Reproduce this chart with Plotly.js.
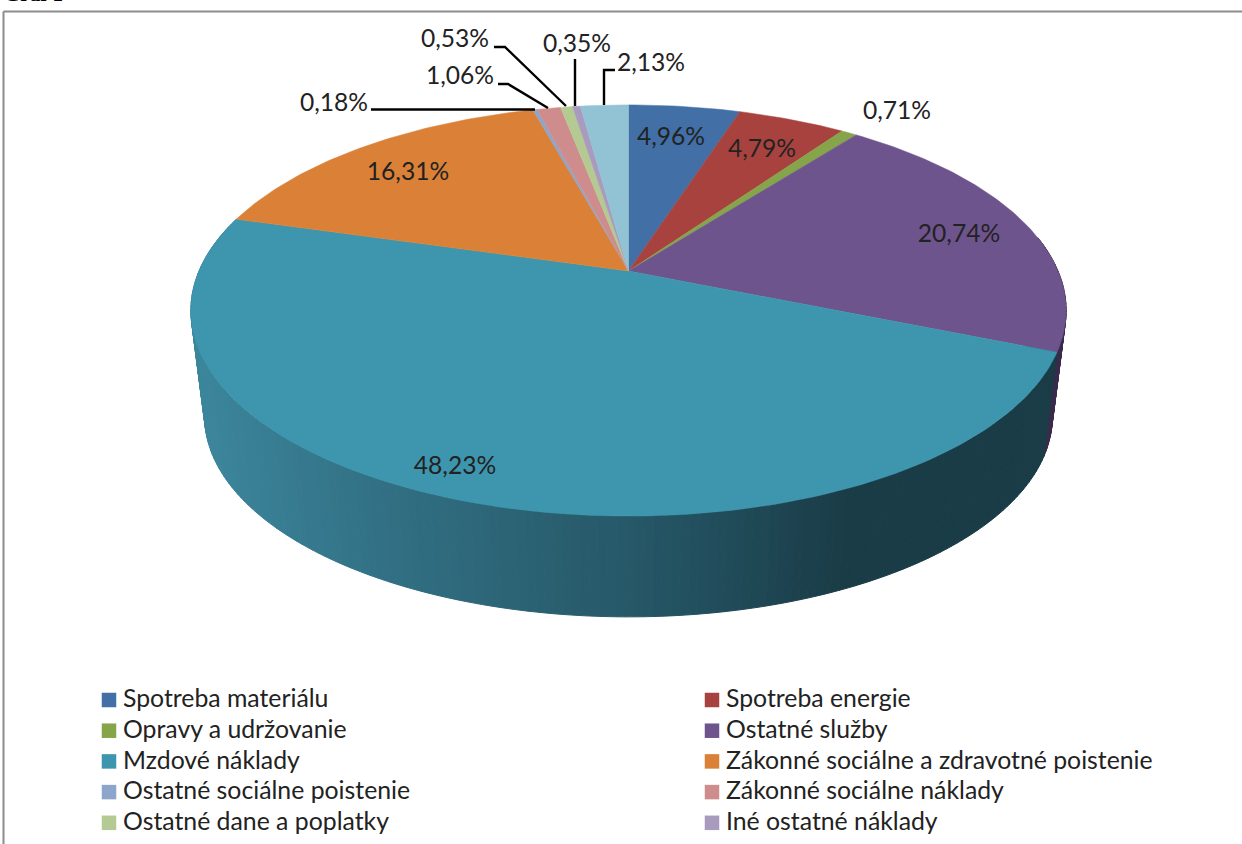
<!DOCTYPE html>
<html><head><meta charset="utf-8">
<script src="https://cdn.plot.ly/plotly-3.0.1.min.js"></script>
<style>html,body{margin:0;padding:0;background:#fff;overflow:hidden}</style></head>
<body><div id="chart" style="width:1242px;height:844px"></div>
<script>
const categories = ["Spotreba materiálu","Spotreba energie","Opravy a udržovanie","Ostatné služby","Mzdové náklady","Zákonné sociálne a zdravotné poistenie","Ostatné sociálne poistenie","Zákonné sociálne náklady","Ostatné dane a poplatky","Iné ostatné náklady","Ostatné"];
const values = [4.96,4.79,0.71,20.74,48.23,16.31,0.18,1.06,0.53,0.35,2.13];
const labels = ["4,96%","4,79%","0,71%","20,74%","48,23%","16,31%","0,18%","1,06%","0,53%","0,35%","2,13%"];
const colors = ["#416FA6","#A8423F","#86A44A","#6E548D","#3D96AE","#DA8137","#8EA5CB","#CE8D8C","#B5CA92","#A99BBD","#91C3D5"];
const labelPos = [[671,139],[762,151],[897,113],[959,236],[455,468],[408,174],[334,105],[460,78],[455,41],[577,46],[651,65]];
const leaders = [null,null,null,null,null,null,
 [[371,109.5],[535,109.5]],[[498,84],[508,84],[548,108]],[[494,47],[505,47],[566,106]],[[575,59],[575,106]],[[615,70],[604,70],[604,105]]];

const FONT = "Lato, Carlito, sans-serif", INK = "#222222";
const total = values.reduce((a,b)=>a+b,0);
const CX = 628.5, k = 0.192;
function proj(deg, R, A, cy){
  const t = deg*Math.PI/180, X = Math.sin(t), Y = -Math.cos(t), d = 1-k*Y;
  return [CX + R*X/d, cy + A*Y/d];
}
const top_ = d => proj(d, 429.5, 198, 271);
const bot_ = d => proj(d, 416, 193, 378);

const traces = [];
// side wall, built from the same angles
const wallStops = [[190,[60,134,156]],[400,[49,110,130]],[630,[38,88,104]],[850,[26,60,71]],[1070,[26,60,71]]];
function wallColor(x){
  for(let i=0;i<wallStops.length-1;i++){
    const [a,ca]=wallStops[i],[b,cb]=wallStops[i+1];
    if(x<=b){const f=Math.max(0,(x-a)/(b-a));return "rgb("+ca.map((c,j)=>Math.round(c+(cb[j]-c)*f)).join(",")+")";}
  }
  return "rgb(26,60,71)";
}
let cum=[0]; values.forEach(v=>cum.push(cum[cum.length-1]+v));
const deg = p => p/total*360;
const wallFrom = deg(cum[4]), wallTo = deg(cum[5]);
const STEP = 1;
function pushWall(a,b,col){
  const p1=top_(a),p2=top_(b),p3=bot_(b),p4=bot_(a);
  traces.push({type:"scatter",mode:"lines",x:[p1[0],p2[0],p3[0],p4[0],p1[0]],y:[p1[1],p2[1],p3[1],p4[1],p1[1]],
    fill:"toself",fillcolor:col,line:{color:col,width:1},hoverinfo:"skip",showlegend:false});
}
for(let a=80;a<wallFrom;a+=STEP){ pushWall(a,Math.min(a+STEP,wallFrom),"#3A2A4C"); }
for(let a=wallFrom;a<wallTo;a+=STEP){
  const b=Math.min(a+STEP,wallTo);
  pushWall(a,b,wallColor((top_(a)[0]+top_(b)[0])/2));
}
// top face wedges
values.forEach((v,i)=>{
  const a=deg(cum[i]),b=deg(cum[i+1]),xs=[CX],ys=[271];
  const n=Math.max(2,Math.ceil((b-a)/1));
  for(let j=0;j<=n;j++){const p=top_(a+(b-a)*j/n);xs.push(p[0]);ys.push(p[1]);}
  xs.push(CX);ys.push(271);
  traces.push({type:"scatter",mode:"lines",name:categories[i],x:xs,y:ys,fill:"toself",fillcolor:colors[i],
    line:{color:colors[i],width:0.5},hoverinfo:"name",showlegend:false});
});
// leader lines
leaders.forEach(l=>{ if(l) traces.push({type:"scatter",mode:"lines",x:l.map(p=>p[0]),y:l.map(p=>p[1]),
  line:{color:"#000",width:2.4},hoverinfo:"skip",showlegend:false}); });
// value labels
traces.push({type:"scatter",mode:"text",x:labelPos.map(p=>p[0]),y:labelPos.map(p=>p[1]),text:labels,
  textposition:"middle center",textfont:{family:FONT,size:24.6,color:INK},hoverinfo:"skip",showlegend:false});
// legend: ten rows visible, two columns
const legendN = 10;
const legendNames = categories.slice(0,legendN);
const lx = legendNames.map((c,i)=> i%2 ? 712 : 109);
const ly = legendNames.map((c,i)=> 700 + 30.7*Math.floor(i/2));
traces.push({type:"scatter",mode:"markers",x:lx,y:ly,
  marker:{symbol:"square",size:14.5,color:colors.slice(0,legendN),line:{width:0}},hoverinfo:"skip",showlegend:false});
traces.push({type:"scatter",mode:"text",x:lx.map(x=>x+14),y:ly.map(y=>y+1),text:legendNames,textposition:"middle right",
  textfont:{family:FONT,size:24.8,color:INK},hoverinfo:"skip",showlegend:false});

const layout = {
  width:1242,height:844,margin:{l:0,r:0,t:0,b:0},paper_bgcolor:"#fff",plot_bgcolor:"#fff",showlegend:false,
  xaxis:{range:[0,1242],visible:false,fixedrange:true},
  yaxis:{range:[844,0],visible:false,fixedrange:true},
  shapes:[
    {type:"line",xref:"x",yref:"y",x0:3.5,y0:11.5,x1:3.5,y1:844,line:{color:"#8c8c8c",width:2}},
    {type:"line",xref:"x",yref:"y",x0:3.5,y0:11.5,x1:1242,y1:11.5,line:{color:"#8c8c8c",width:2}}
  ],
  annotations:[{text:"<b>Graf 1</b>",x:3,y:7,xref:"x",yref:"y",xanchor:"left",yanchor:"bottom",showarrow:false,
    font:{family:"Liberation Serif, serif",size:21,color:"#000"},borderpad:0}]
};
Plotly.newPlot("chart",traces,layout,{staticPlot:true,displayModeBar:false});
</script></body></html>
